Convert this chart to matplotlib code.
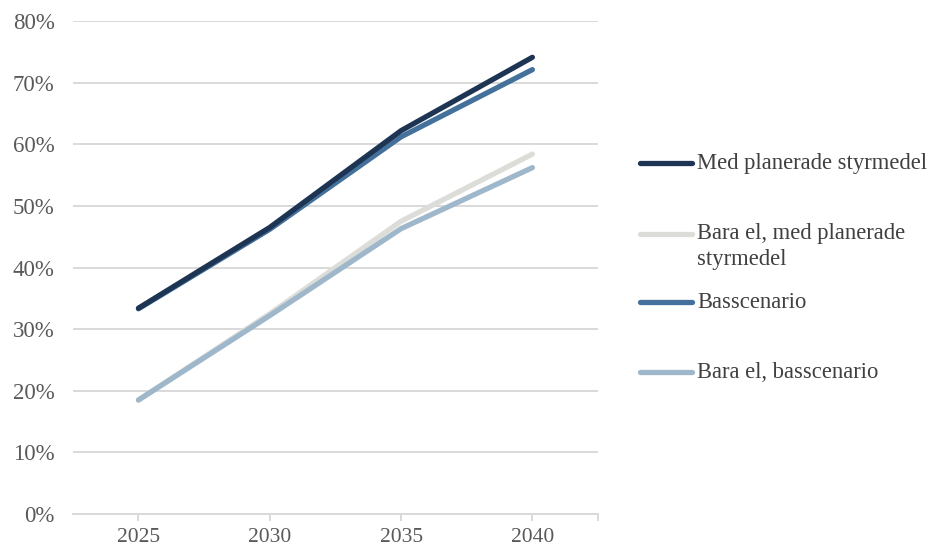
import matplotlib.pyplot as plt
from matplotlib.lines import Line2D
from matplotlib.ticker import FuncFormatter

plt.rcParams['font.family'] = ['Liberation Serif', 'DejaVu Serif']

years = ['2025', '2030', '2035', '2040']
med_styrmedel = [33.4, 46.5, 62.2, 74.1]
bara_el_med = [18.5, 32.5, 47.5, 58.4]
basscenario = [33.3, 46.2, 61.2, 72.1]
bara_el_bas = [18.5, 32.2, 46.3, 56.2]

labels = ['Med planerade styrmedel', 'Bara el, med planerade\nstyrmedel',
          'Basscenario', 'Bara el, basscenario']
colors = ['#1e3453', '#dcdcd8', '#44719b', '#9fb7cb']
series = [med_styrmedel, bara_el_med, basscenario, bara_el_bas]

fig = plt.figure(figsize=(9.33, 5.51), dpi=100)
ax = fig.add_axes([0.078, 0.067, 0.563, 0.895])

x = range(len(years))
# draw order: light lines first so darker ones sit on top
for i in [1, 3, 2, 0]:
    ax.plot(x, series[i], color=colors[i], lw=3.8, solid_capstyle='round', zorder=3)

ax.set_xlim(-0.5, 3.5)
ax.set_ylim(0, 80)
ax.set_yticks(range(0, 81, 10))
ax.yaxis.set_major_formatter(FuncFormatter(lambda v, p: f'{v:.0f}%'))
ax.set_xticks(list(x))
ax.set_xticklabels(years)
ax.set_xticks([3.5], minor=True)

ax.grid(axis='y', color='#d9d9d9', lw=1.4)
ax.set_axisbelow(True)
for s in ['top', 'right', 'left']:
    ax.spines[s].set_visible(False)
ax.spines['bottom'].set_color('#d9d9d9')
ax.spines['bottom'].set_linewidth(1.4)
ax.tick_params(axis='y', length=0, pad=13, labelsize=16.5, labelcolor='#595959')
ax.tick_params(axis='x', which='both', length=5, color='#d9d9d9', width=1.4,
               pad=5, labelsize=15.5, labelcolor='#595959')

# legend, drawn by hand for the uneven Excel-like spacing
leg_y = [163, 234, 302, 372]
for lab, c, yy in zip(labels, colors, leg_y):
    yf = 1 - yy / 551
    fig.add_artist(Line2D([640 / 933, 692 / 933], [yf, yf], color=c, lw=3.8,
                          solid_capstyle='round', transform=fig.transFigure))
    t = fig.text(697 / 933, 1 - (yy + 6) / 551, lab, fontsize=16.3, color='#404040',
                 va='baseline', ha='left', linespacing=1.3,
                 transform=fig.transFigure)
    if '\n' in lab:
        # keep the first line on the handle, wrap downward
        t.set_va('top')
        t.set_y(1 - (yy - 11) / 551)

fig.savefig('out.png', dpi=100)
